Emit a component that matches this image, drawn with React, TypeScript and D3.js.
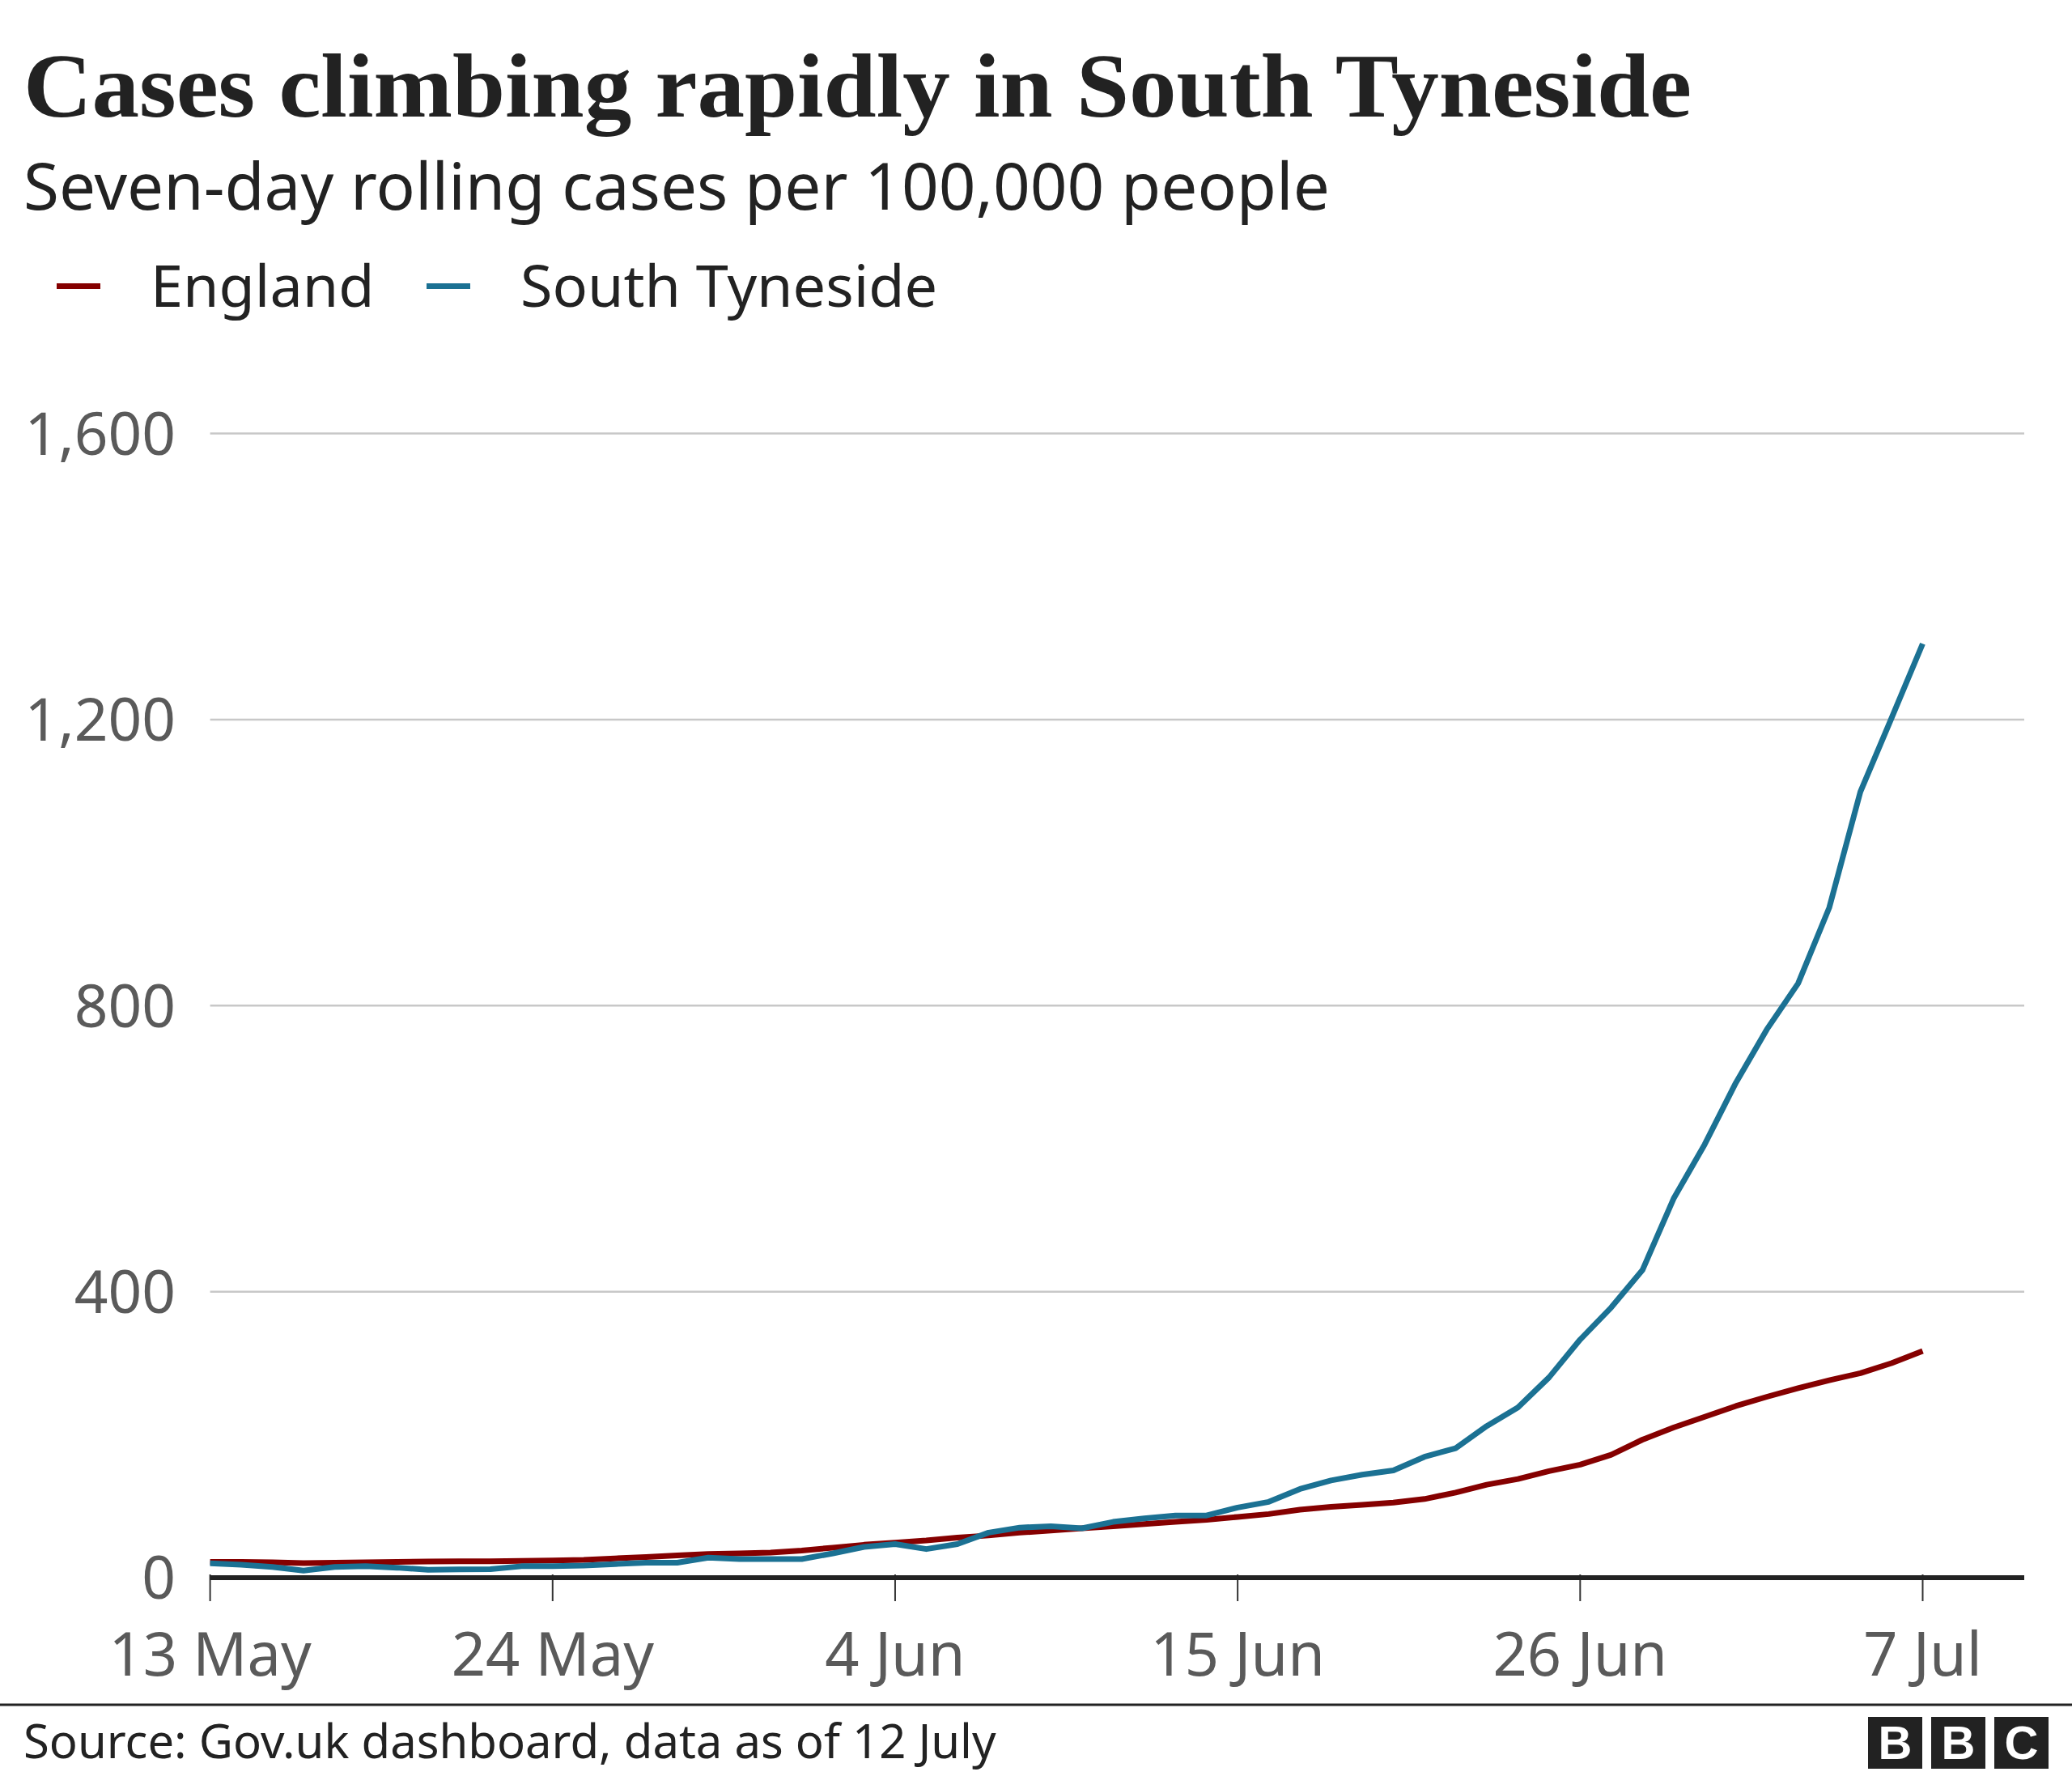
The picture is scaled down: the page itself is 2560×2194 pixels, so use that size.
import React, { useRef, useEffect } from "react";
import * as d3 from "d3";

// one value per day, 13 May .. 7 Jul 2021
const englandCases = [
  22, 22, 21.5, 20.5, 21, 21.5, 22, 22.5, 23, 23, 23.5, 24, 25, 27, 29, 31, 33, 34, 35, 38,
  42, 46, 49, 52, 56, 59, 63, 66, 69, 72, 75, 78, 81, 85, 89, 95, 99, 102, 105, 110,
  119, 130, 138, 149, 158, 172, 193, 210, 225, 240, 253, 265, 276, 286, 300, 317,
];
const southTynesideCases = [
  20, 18, 15, 10, 15, 16, 14, 11, 11.5, 12, 16, 16, 17, 19, 21, 21, 28, 26, 26, 26,
  34, 43, 47, 40, 47, 63, 70, 72, 69, 78, 83, 87, 87, 98, 106, 124, 136, 144, 150, 169,
  181, 212, 238, 280, 333, 378, 430, 530, 606, 692, 767, 831, 937, 1099, 1202, 1306,
];
const seriesNames = ["England", "South Tyneside"];
const seriesColors = ["#850000", "#1b7193"];
const yTicks = [0, 400, 800, 1200, 1600];
const xTickLabels = ["13 May", "24 May", "4 Jun", "15 Jun", "26 Jun", "7 Jul"];

const dates = d3.timeDay.range(new Date(2021, 4, 13), new Date(2021, 6, 8));
const xTickDates = xTickLabels.map((s) => d3.timeParse("%d %b %Y")(`${s} 2021`) as Date);

const W = 2560;
const H = 2194;
const SANS = "'Noto Sans', sans-serif";

const App = () => {
  const svgRef = useRef<SVGSVGElement>(null);

  useEffect(() => {
    const svg = d3.select(svgRef.current);
    svg.selectAll("*").remove();

    const x = d3
      .scaleTime()
      .domain([dates[0], dates[dates.length - 1]])
      .range([259.6, 2375.5]);
    const y = d3.scaleLinear().domain([0, 1600]).range([1949, 535.5]);
    const plotRight = 2501;

    svg.append("rect").attr("width", W).attr("height", H).attr("fill", "#fff");

    // title block
    svg
      .append("text")
      .attr("x", 29)
      .attr("y", 144)
      .attr("font-family", "'Liberation Serif', serif")
      .attr("font-weight", "bold")
      .attr("font-size", 113)
      .attr("textLength", 2061)
      .attr("lengthAdjust", "spacingAndGlyphs")
      .attr("fill", "#222")
      .text("Cases climbing rapidly in South Tyneside");

    svg
      .append("text")
      .attr("x", 29)
      .attr("y", 259)
      .attr("font-family", SANS)
      .attr("font-size", 80)
      .attr("fill", "#222")
      .text("Seven-day rolling cases per 100,000 people");

    // legend
    const legendX = [70, 527];
    seriesNames.forEach((name, i) => {
      svg
        .append("rect")
        .attr("x", legendX[i])
        .attr("y", 350)
        .attr("width", 54)
        .attr("height", 7)
        .attr("fill", seriesColors[i]);
      svg
        .append("text")
        .attr("x", legendX[i] + 116)
        .attr("y", 379)
        .attr("font-family", SANS)
        .attr("font-size", 72)
        .attr("fill", "#222")
        .text(name);
    });

    // gridlines + y labels
    svg
      .append("g")
      .selectAll("line")
      .data(yTicks.filter((d) => d > 0))
      .enter()
      .append("line")
      .attr("x1", x.range()[0])
      .attr("x2", plotRight)
      .attr("y1", (d) => y(d))
      .attr("y2", (d) => y(d))
      .attr("stroke", "#c8c8c8")
      .attr("stroke-width", 2.5);

    svg
      .append("g")
      .selectAll("text")
      .data(yTicks)
      .enter()
      .append("text")
      .attr("x", 217)
      .attr("y", (d) => y(d))
      .attr("dy", "0.36em")
      .attr("text-anchor", "end")
      .attr("font-family", SANS)
      .attr("font-size", 73)
      .attr("fill", "#5a5a5a")
      .text((d) => d3.format(",")(d));

    // x ticks
    svg
      .append("g")
      .selectAll("line")
      .data(xTickDates)
      .enter()
      .append("line")
      .attr("x1", (d) => x(d))
      .attr("x2", (d) => x(d))
      .attr("y1", 1945)
      .attr("y2", 1978)
      .attr("stroke", "#333")
      .attr("stroke-width", 2);

    svg
      .append("g")
      .selectAll("text")
      .data(xTickDates)
      .enter()
      .append("text")
      .attr("x", (d) => x(d))
      .attr("y", 2070)
      .attr("text-anchor", "middle")
      .attr("font-family", SANS)
      .attr("font-size", 74)
      .attr("fill", "#5a5a5a")
      .text((d, i) => xTickLabels[i]);

    // lines
    const line = d3
      .line<number>()
      .x((d, i) => x(dates[i]))
      .y((d) => y(d));

    [englandCases, southTynesideCases].forEach((values, i) => {
      svg
        .append("path")
        .datum(values)
        .attr("d", line)
        .attr("fill", "none")
        .attr("stroke", seriesColors[i])
        .attr("stroke-width", 7)
        .attr("stroke-linejoin", "round");
    });

    // zero baseline
    svg
      .append("line")
      .attr("x1", x.range()[0])
      .attr("x2", plotRight)
      .attr("y1", y(0))
      .attr("y2", y(0))
      .attr("stroke", "#222")
      .attr("stroke-width", 6);

    // footer
    svg
      .append("line")
      .attr("x1", 0)
      .attr("x2", W)
      .attr("y1", 2106)
      .attr("y2", 2106)
      .attr("stroke", "#222")
      .attr("stroke-width", 3);

    svg
      .append("text")
      .attr("x", 29)
      .attr("y", 2172)
      .attr("font-family", SANS)
      .attr("font-size", 58)
      .attr("fill", "#222")
      .text("Source: Gov.uk dashboard, data as of 12 July");

    const logo = svg.append("g");
    ["B", "B", "C"].forEach((letter, i) => {
      const bx = 2308 + i * 78;
      logo
        .append("rect")
        .attr("x", bx)
        .attr("y", 2121)
        .attr("width", 67)
        .attr("height", 64)
        .attr("fill", "#222");
      logo
        .append("text")
        .attr("x", bx + 33.5)
        .attr("y", 2173)
        .attr("text-anchor", "middle")
        .attr("font-family", "'Liberation Sans', Arial, sans-serif")
        .attr("font-weight", "bold")
        .attr("font-size", 58)
        .attr("fill", "#fff")
        .text(letter);
    });
  }, []);

  return (
    <svg
      ref={svgRef}
      width={W}
      height={H}
      style={{ position: "absolute", left: 0, top: 0, display: "block" }}
    ></svg>
  );
};

export default App;
